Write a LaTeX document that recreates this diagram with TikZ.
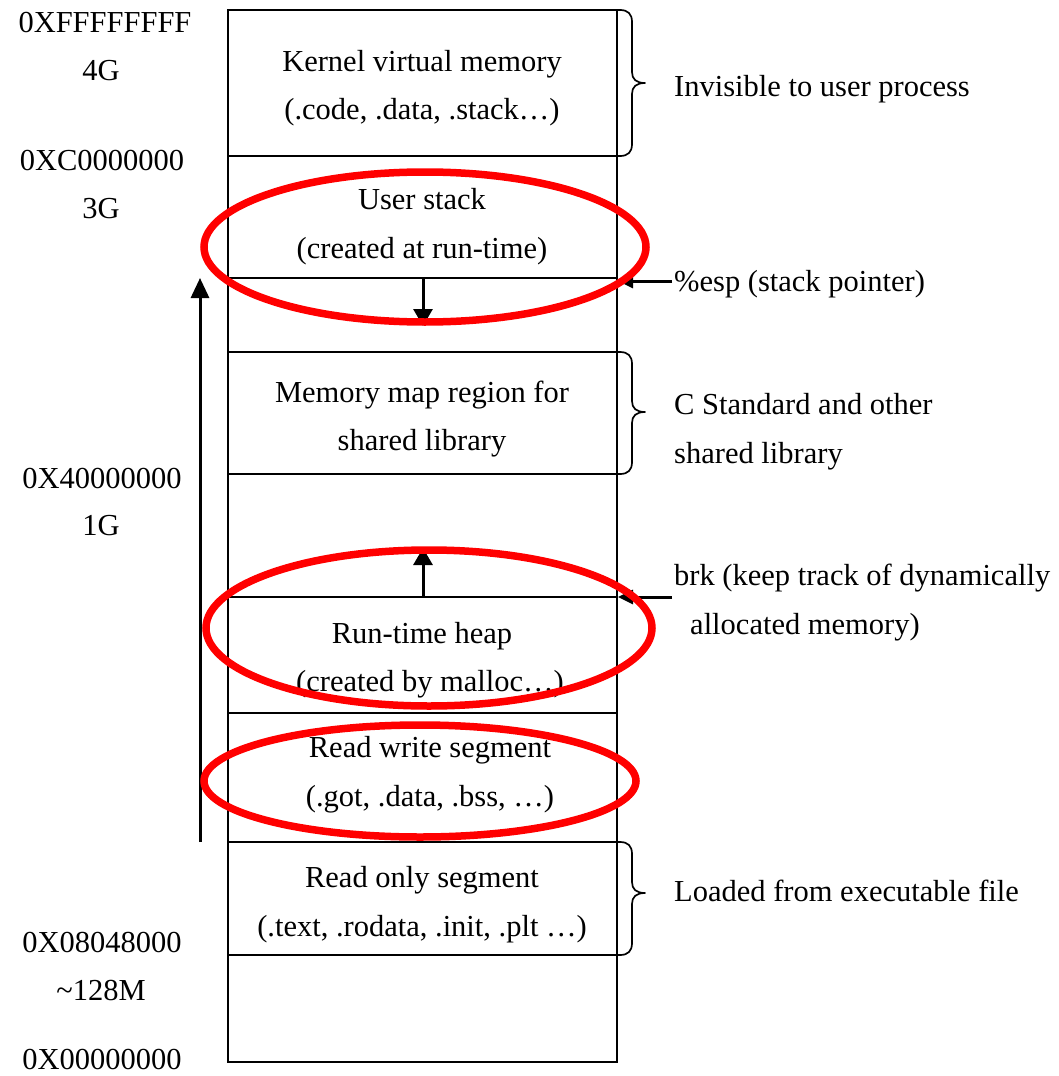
\documentclass[tikz,border=0pt]{standalone}
\usepackage{fontspec}
\setmainfont{Liberation Serif}
\usetikzlibrary{arrows.meta}
\begin{document}
\begin{tikzpicture}[x=1pt,y=-1pt,
  txt/.style={inner sep=0pt,font=\fontsize{30.5}{36}\selectfont,text height=20pt,text depth=6pt,yshift=-3pt},
  lbl/.style={txt,anchor=west},
  col/.style={line width=1.7pt},
  brc/.style={line width=1.7pt,line join=round},
  bigarrow/.style={line width=3pt,-{Triangle[length=17pt,width=19pt]}},
  uparrow/.style={line width=3pt,-{Triangle[length=20pt,width=18pt]}},
  ptr/.style={line width=3pt,-{Triangle[length=15pt,width=14pt]}},
  redring/.style={draw=red,line width=7.5pt}]
\useasboundingbox (0,0) rectangle (1058,1076);
% column
\draw[col] (228,10) rectangle (617,1062);
\foreach \yy in {156,278,352,474,597,713,842,955} \draw[col] (228,\yy) -- (617,\yy);
% braces
\draw[brc] (617,10) -- (620,10) .. controls (628,10) and (632,14) .. (632,22) -- (632,72) .. controls (632,79) and (636,83) .. (645,83) .. controls (636,83) and (632,87) .. (632,94) -- (632,144) .. controls (632,152) and (628,156) .. (620,156) -- (617,156);
\draw[brc] (617,352) -- (620,352) .. controls (628,352) and (632,356) .. (632,364) -- (632,401) .. controls (632,408) and (636,412) .. (645,412) .. controls (636,412) and (632,416) .. (632,423) -- (632,462) .. controls (632,470) and (628,474) .. (620,474) -- (617,474);
\draw[brc] (617,842) -- (620,842) .. controls (628,842) and (632,846) .. (632,854) -- (632,882) .. controls (632,889) and (636,893) .. (645,893) .. controls (636,893) and (632,897) .. (632,904) -- (632,943) .. controls (632,951) and (628,955) .. (620,955) -- (617,955);
% left labels
\node[txt] (a1) at (105,22) {0XFFFFFFFF};
\node[txt] (a2) at (101,70) {4G};
\node[txt] (a3) at (102,160) {0XC0000000};
\node[txt] (a4) at (101,208) {3G};
\node[txt] (a5) at (102,478) {0X40000000};
\node[txt] (a6) at (101,525) {1G};
\node[txt] (a7) at (102,942) {0X08048000};
\node[txt] (a8) at (101,990) {{\char"7E}128M};
\node[txt] (a9) at (102,1059) {0X00000000};
% box texts
\node[txt] (k1) at (422,61) {Kernel virtual memory};
\node[txt] (k2) at (422,109) {(.code, .data, .stack…)};
\node[txt] (s1) at (422,199) {User stack};
\node[txt] (s2) at (422,248) {(created at run-time)};
\node[txt] (m1) at (422,392) {Memory map region for};
\node[txt] (m2) at (422,440) {shared library};
\node[txt] (h1) at (422,633) {Run-time heap};
\node[txt] (h2) at (430,681) {(created by malloc…)};
\node[txt] (w1) at (430,747) {Read write segment};
\node[txt] (w2) at (430,796) {(.got, .data, .bss, …)};
\node[txt] (r1) at (422,877) {Read only segment};
\node[txt] (r2) at (422,926) {(.text, .rodata, .init, .plt …)};
% right labels
\node[lbl] (inv) at (674,86) {Invisible to user process};
\node[lbl] (esp) at (674,281) {\%esp (stack pointer)};
\node[lbl] (cs1) at (674,404) {C Standard and other};
\node[lbl] (cs2) at (674,453) {shared library};
\node[lbl] (brk1) at (674,575) {brk (keep track of dynamically};
\node[lbl] (brk2) at (690,624) {allocated memory)};
\node[lbl] (ld) at (674,891) {Loaded from executable file};
% arrows
\coordinate (espT) at (618,281);
\coordinate (brkT) at (618,597);
\coordinate (espS) at (672,281);
\coordinate (brkS) at (672,597);
\draw[ptr] (espS) -- (espT);
\draw[ptr] (brkS) -- (brkT);
\coordinate (stkA) at (423,278);
\coordinate (stkB) at (423,326);
\coordinate (hpA) at (423,597);
\coordinate (hpB) at (423,548);
\draw[bigarrow] (stkA) -- (stkB);
\draw[bigarrow] (hpA) -- (hpB);
\coordinate (upA) at (200,842);
\coordinate (upB) at (200,278);
\draw[uparrow] (upA) -- (upB);
% red ellipses
\draw[redring] (425,247) ellipse [x radius=221, y radius=75];
\draw[redring] (429,628) ellipse [x radius=223, y radius=78];
\draw[redring] (420,781) ellipse [x radius=216, y radius=56];
\end{tikzpicture}
\end{document}
